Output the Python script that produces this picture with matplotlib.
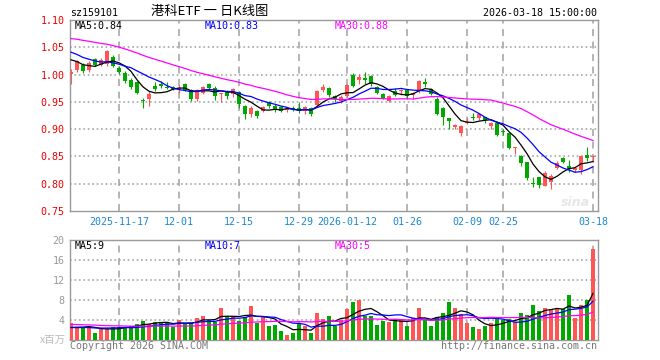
import numpy as np
import pandas as pd
import matplotlib
matplotlib.use("Agg")
import matplotlib.pyplot as plt

plt.rcParams['font.family'] = ['DejaVu Sans Mono', 'Noto Sans CJK SC']
plt.rcParams['lines.scale_dashes'] = False

# daily bars 2025-11-05 .. 2026-03-18 (88 sessions)
opens = [1.001, 1.008, 1.017, 1.008, 1.029, 1.017, 1.019, 1.033, 1.012, 1.002,
         0.990, 0.987, 0.954, 0.955, 0.979, 0.982, 0.978, 0.977, 0.974, 0.983,
         0.971, 0.955, 0.967, 0.982, 0.976, 0.964, 0.970, 0.965, 0.968, 0.943,
         0.927, 0.933, 0.934, 0.950, 0.943, 0.941, 0.935, 0.939, 0.939, 0.934,
         0.938, 0.944, 0.972, 0.975, 0.960, 0.952, 0.961, 1.000, 0.990, 0.993,
         0.997, 0.978, 0.965, 0.952, 0.969, 0.969, 0.972, 0.962, 0.969, 0.986,
         0.974, 0.956, 0.939, 0.921, 0.904, 0.893, 0.911, 0.922, 0.920, 0.922,
         0.906, 0.912, 0.896, 0.893, 0.865, 0.850, 0.839, 0.801, 0.812, 0.796,
         0.804, 0.829, 0.848, 0.833, 0.826, 0.826, 0.853, 0.849]
highs = [1.010, 1.027, 1.021, 1.024, 1.031, 1.030, 1.045, 1.035, 1.016, 1.006,
         0.993, 0.988, 0.957, 0.969, 0.987, 0.989, 0.986, 0.979, 0.980, 0.985,
         0.973, 0.973, 0.979, 0.984, 0.979, 0.967, 0.972, 0.976, 0.970, 0.945,
         0.943, 0.935, 0.942, 0.952, 0.946, 0.943, 0.939, 0.942, 0.950, 0.942,
         0.940, 0.971, 0.982, 0.977, 0.963, 0.962, 0.982, 1.002, 1.001, 1.004,
         1.000, 0.979, 0.967, 0.962, 0.976, 0.974, 0.974, 0.968, 0.990, 0.994,
         0.976, 0.959, 0.940, 0.921, 0.910, 0.907, 0.921, 0.929, 0.930, 0.923,
         0.913, 0.915, 0.901, 0.894, 0.868, 0.852, 0.840, 0.812, 0.813, 0.824,
         0.818, 0.841, 0.849, 0.844, 0.830, 0.851, 0.868, 0.851]
lows = [0.982, 1.005, 1.002, 1.005, 1.016, 1.015, 1.016, 1.013, 1.001, 0.985,
        0.974, 0.965, 0.939, 0.943, 0.969, 0.976, 0.973, 0.971, 0.967, 0.970,
        0.951, 0.951, 0.964, 0.974, 0.954, 0.949, 0.956, 0.958, 0.939, 0.918,
        0.923, 0.921, 0.931, 0.938, 0.932, 0.931, 0.931, 0.933, 0.930, 0.928,
        0.925, 0.943, 0.968, 0.958, 0.949, 0.948, 0.958, 0.977, 0.982, 0.982,
        0.979, 0.965, 0.956, 0.949, 0.960, 0.962, 0.956, 0.955, 0.967, 0.977,
        0.962, 0.926, 0.907, 0.900, 0.900, 0.887, 0.909, 0.917, 0.917, 0.912,
        0.900, 0.887, 0.890, 0.863, 0.855, 0.832, 0.807, 0.794, 0.793, 0.795,
        0.791, 0.827, 0.838, 0.822, 0.821, 0.818, 0.841, 0.839]
closes = [1.005, 1.024, 1.006, 1.022, 1.018, 1.026, 1.043, 1.016, 1.005, 0.988,
          0.977, 0.966, 0.951, 0.965, 0.973, 0.979, 0.975, 0.974, 0.976, 0.972,
          0.955, 0.971, 0.977, 0.976, 0.961, 0.966, 0.961, 0.974, 0.946, 0.927,
          0.939, 0.924, 0.941, 0.943, 0.935, 0.933, 0.937, 0.936, 0.933, 0.940,
          0.928, 0.970, 0.977, 0.962, 0.955, 0.959, 0.980, 0.979, 0.995, 0.990,
          0.983, 0.967, 0.957, 0.961, 0.963, 0.971, 0.961, 0.967, 0.989, 0.983,
          0.965, 0.927, 0.923, 0.915, 0.908, 0.905, 0.913, 0.920, 0.927, 0.916,
          0.911, 0.889, 0.894, 0.866, 0.867, 0.838, 0.810, 0.799, 0.797, 0.819,
          0.815, 0.838, 0.839, 0.827, 0.828, 0.850, 0.847, 0.851]
# volume, millions of shares
volumes = [3.4, 2.5, 2.6, 2.6, 1.5, 2.2, 2.2, 2.6, 2.7, 2.7,
           2.8, 3.2, 3.9, 3.3, 3.6, 3.5, 3.4, 2.6, 4.0, 3.3,
           3.4, 4.5, 4.9, 4.0, 3.6, 6.5, 4.8, 4.8, 3.8, 4.6,
           6.9, 3.5, 4.6, 2.9, 3.1, 1.9, 1.0, 1.4, 3.2, 2.8,
           1.4, 5.5, 4.3, 4.8, 2.9, 4.0, 6.3, 7.6, 8.0, 4.8,
           4.8, 3.0, 3.8, 3.6, 4.2, 4.2, 2.8, 4.5, 6.4, 4.2,
           2.8, 4.6, 5.4, 7.6, 6.4, 5.2, 3.4, 2.6, 2.2, 2.8,
           3.4, 4.2, 4.0, 4.2, 3.6, 5.4, 5.0, 7.0, 5.8, 6.4,
           6.2, 6.2, 6.2, 9.0, 4.4, 7.0, 8.0, 18.2]

# 29 sessions before the window (estimated from where the MA lines start)
hist_closes = [1.060, 1.066, 1.072, 1.078, 1.083, 1.088, 1.092, 1.090, 1.087, 1.084,
               1.082, 1.080, 1.078, 1.076, 1.078, 1.080, 1.077, 1.074, 1.072, 1.070,
               1.066, 1.060, 1.055, 1.050, 1.044, 1.040, 1.035, 1.030, 1.025]
hist_volumes = [3.0, 3.8, 3.2, 2.9, 4.1, 3.6, 3.3, 3.0, 3.9, 3.5,
                3.2, 3.6, 3.1, 3.8, 3.4, 3.0, 3.5, 3.3, 3.2, 3.6,
                2.8, 2.4, 2.6, 2.3, 2.4, 2.2, 2.5, 2.1, 2.3]

tick_idx = [8, 18, 28, 38, 46, 56, 66, 72, 87]
tick_lab = ['2025-11-17', '12-01', '12-15', '12-29', '2026-01-12',
            '01-26', '02-09', '02-25', '03-18']

RED = '#ff5555'
GREEN = '#00a800'
GRID = '#a0a0a0'
W, H = 660, 360

n = len(closes)
x = np.arange(n)
o = np.array(opens); h = np.array(highs); l = np.array(lows); c = np.array(closes)
up = c >= o
cols = np.where(up, RED, GREEN)


def ma(hist, vals, k):
    s = pd.Series(list(hist) + list(vals))
    return s.rolling(k).mean().to_numpy()[len(hist):]


ma5, ma10, ma30 = (ma(hist_closes, closes, k) for k in (5, 10, 30))
vma5, vma10, vma30 = (ma(hist_volumes, volumes, k) for k in (5, 10, 30))

fig = plt.figure(figsize=(6.6, 3.6), dpi=100)
ax = fig.add_axes([70 / W, 1 - 211 / H, 528 / W, 191 / H])
axv = fig.add_axes([70 / W, 1 - 340 / H, 528 / W, 100 / H])

for a in (ax, axv):
    a.set_xlim(-0.17, n - 0.17)
    for sp in a.spines.values():
        sp.set_color('#999999')
        sp.set_linewidth(1.0)
    for t in tick_idx:
        a.axvline(t, color=GRID, lw=1.1, ls=(0, (5, 4)), zorder=1)
    a.tick_params(length=0)

# price panel
ax.set_ylim(0.75, 1.10)
for lev in [0.80, 0.85, 0.90, 0.95, 1.00, 1.05]:
    ax.axhline(lev, color=GRID, lw=1.1, ls=(0, (1.2, 2)), zorder=1)
ax.vlines(x, l, h, colors=cols, lw=0.8, zorder=2)
body = np.maximum(np.abs(c - o), 0.0018)
ax.bar(x, body, bottom=np.minimum(o, c), width=0.8, color=cols, zorder=3)
ax.plot(x, ma5, color='black', lw=0.9, zorder=4)
ax.plot(x, ma10, color='#0000ff', lw=0.9, zorder=4)
ax.plot(x, ma30, color='#ff00ff', lw=0.9, zorder=4)
ax.set_yticks([0.75, 0.80, 0.85, 0.90, 0.95, 1.00, 1.05, 1.10])
ax.set_yticklabels(['%.2f' % v for v in ax.get_yticks()], color='#ee0000', fontsize=7.2)
ax.set_xticks(tick_idx)
ax.set_xticklabels(tick_lab, color='#1a88d0', fontsize=7.2)
ax.tick_params(axis='x', pad=4)
ax.tick_params(axis='y', pad=4)

# volume panel
axv.set_ylim(0, 20)
for lev in [4, 8, 12, 16]:
    axv.axhline(lev, color=GRID, lw=1.1, ls=(0, (1.2, 2)), zorder=1)
axv.bar(x, volumes, width=0.8, color=cols, zorder=3)
axv.plot(x, vma5, color='black', lw=0.9, zorder=4)
axv.plot(x, vma10, color='#0000ff', lw=0.9, zorder=4)
axv.plot(x, vma30, color='#ff00ff', lw=0.9, zorder=4)
axv.set_yticks([4, 8, 12, 16, 20])
axv.set_yticklabels(['4', '8', '12', '16', '20'], color='#999999', fontsize=7.2)
axv.set_xticks([])
axv.tick_params(axis='y', pad=4)


def txt(px, py, s, **kw):
    kw.setdefault('fontsize', 7.2)
    kw.setdefault('va', 'center')
    fig.text(px / W, 1 - py / H, s, **kw)


txt(70, 13, 'sz159101')
txt(210, 12, '港科ETF 一 日K线图', ha='center', fontsize=9.5,
    family=['Noto Sans CJK SC', 'DejaVu Sans'])
txt(597, 13, '2026-03-18 15:00:00', ha='right')
txt(75, 26, 'MA5:%.2f' % ma5[-1], color='black')
txt(205, 26, 'MA10:%.2f' % ma10[-1], color='#0000ff')
txt(335, 26, 'MA30:%.2f' % ma30[-1], color='#ff00ff')
txt(75, 246, 'MA5:%d' % int(vma5[-1]), color='black')
txt(205, 246, 'MA10:%d' % int(vma10[-1]), color='#0000ff')
txt(335, 246, 'MA30:%d' % int(vma30[-1]), color='#ff00ff')
txt(66, 340, 'x百万', ha='right', color='#bbbbbb', fontsize=7.5,
    family=['Noto Sans CJK SC', 'DejaVu Sans'])
txt(70, 346, 'Copyright 2026 SINA.COM', color='#777777')
txt(597, 346, 'http://finance.sina.com.cn', ha='right', color='#777777')
txt(590, 203, 'sina', ha='right', color='#e6e6e6', fontsize=9, style='italic',
    weight='bold', family='DejaVu Sans')

fig.savefig('out.png', dpi=100, facecolor='white')
